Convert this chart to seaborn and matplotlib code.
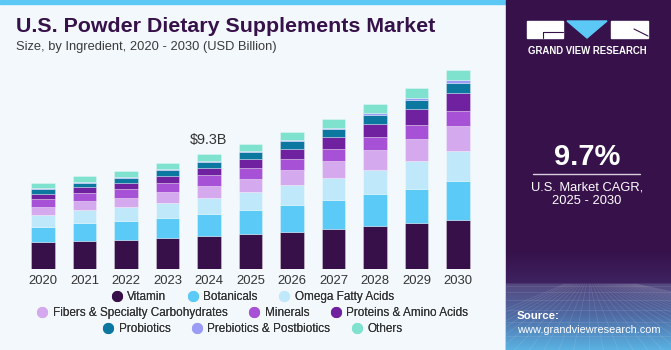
import numpy as np
import pandas as pd
import matplotlib
matplotlib.use("Agg")
from matplotlib import pyplot as plt
from matplotlib.lines import Line2D
from matplotlib.patches import Rectangle, Polygon
from matplotlib.colors import to_rgb
import seaborn as sns

# données (USD Billion)
years = [2020, 2021, 2022, 2023, 2024, 2025, 2026, 2027, 2028, 2029, 2030]
ingredients = ["Vitamin", "Botanicals", "Omega Fatty Acids", "Fibers & Specialty Carbohydrates",
               "Minerals", "Proteins & Amino Acids", "Probiotics", "Prebiotics & Postbiotics", "Others"]
vitamin = [2.16, 2.27, 2.35, 2.49, 2.65, 2.83, 3.02, 3.23, 3.45, 3.69, 3.99]
botanicals = [1.27, 1.41, 1.49, 1.62, 1.78, 1.91, 2.13, 2.32, 2.59, 2.80, 3.10]
omega = [0.97, 1.05, 1.14, 1.24, 1.35, 1.51, 1.62, 1.81, 1.97, 2.21, 2.48]
fibers = [0.62, 0.73, 0.76, 0.86, 0.97, 1.05, 1.24, 1.40, 1.59, 1.81, 1.99]
minerals = [0.65, 0.65, 0.73, 0.76, 0.81, 0.86, 0.92, 0.97, 1.08, 1.16, 1.24]
proteins = [0.41, 0.49, 0.49, 0.54, 0.59, 0.73, 0.81, 0.92, 1.08, 1.24, 1.43]
probiotics = [0.35, 0.38, 0.41, 0.46, 0.51, 0.54, 0.59, 0.65, 0.67, 0.73, 0.84]
prebiotics = [0.08, 0.08, 0.08, 0.11, 0.11, 0.11, 0.11, 0.13, 0.16, 0.22, 0.19]
others = [0.41, 0.43, 0.49, 0.51, 0.54, 0.59, 0.67, 0.70, 0.75, 0.78, 0.86]
colors = ["#37104a", "#5bcaf6", "#bfe9fa", "#d5a9ed", "#a751d6", "#7021a0", "#0c78a0", "#9a9cf6", "#7fe2cf"]
callout_year = 2024
callout_label = "$9.3B"

series = [vitamin, botanicals, omega, fibers, minerals, proteins, probiotics, prebiotics, others]
df = pd.DataFrame({name: vals for name, vals in zip(ingredients, series)}, index=years)
df.index.name = "Year"
long_df = df.reset_index().melt(id_vars="Year", var_name="Ingredient", value_name="Value")
palette = dict(zip(ingredients, colors))

sns.set_theme(style="white")
plt.rcParams['font.family'] = ['Liberation Sans', 'DejaVu Sans']

W, H = 671, 350


def fx(x):
    return x / W


def fy(y):
    return 1 - y / H


fig = plt.figure(figsize=(W / 100, H / 100), dpi=100)
fig.patch.set_facecolor("#f3f8fc")

# bande bleue en haut + panneau de droite
fig.add_artist(Rectangle((0, fy(4)), fx(506), 4 / H, transform=fig.transFigure, color="#5bc8f5", zorder=0))
fig.add_artist(Rectangle((fx(506), 0), 1 - fx(506), 1, transform=fig.transFigure, color="#36114a", zorder=0))

# dégradé bas du panneau
stops = [(0, "#36114a"), (32, "#3e2260"), (34, "#54497f"), (65, "#4f6ba5"), (100, "#5ab4e4")]
ys = np.arange(100)
grad = np.zeros((100, 1, 3))
for k in range(3):
    grad[:, 0, k] = np.interp(ys, [s[0] for s in stops], [to_rgb(s[1])[k] for s in stops])
gax = fig.add_axes([fx(506), 0, 1 - fx(506), 100 / H])
gax.imshow(grad, aspect="auto", extent=(0, 1, 0, 1), origin="upper")
# quadrillage discret
for i in range(-12, 25):
    gax.plot([0.5 + i * 0.012, 0.5 + i * 0.09], [0.66, 0], color="white", alpha=0.12, lw=0.5)
for v in [0.64, 0.58, 0.5, 0.4, 0.28, 0.14]:
    gax.plot([0, 1], [v, v], color="white", alpha=0.12, lw=0.5)
gax.set_xlim(0, 1)
gax.set_ylim(0, 1)
gax.axis("off")

# graphique principal
scale = 12.37  # px par milliard
ax = fig.add_axes([fx(22.25), fy(269), 456.5 / W, 215 / H])
sns.histplot(data=long_df, x="Year", weights="Value", hue="Ingredient", hue_order=ingredients[::-1],
             palette=palette, multiple="stack", discrete=True, shrink=0.555, alpha=1,
             edgecolor=(1, 1, 1, 0.35), linewidth=0.6, legend=False, ax=ax)
ax.set_xlim(2019.5, 2030.5)
ax.set_ylim(0, 215 / scale)
ax.set_xticks(years)
ax.set_xticklabels([str(y) for y in years], fontsize=9.4, color="#333333")
ax.set_yticks([])
ax.set_xlabel("")
ax.set_ylabel("")
ax.tick_params(axis="x", length=0, pad=4)
for s in ax.spines.values():
    s.set_visible(False)
ax.patch.set_alpha(0)

total = df.loc[callout_year].sum()
ax.text(callout_year, total + 1.15, callout_label, ha="center", va="center", fontsize=10.4, color="#333333")

# légende en 3 lignes centrées
rows = [ingredients[0:3], ingredients[3:6], ingredients[6:9]]
row_y = [297, 313, 329]
for row, yy in zip(rows, row_y):
    handles = [Line2D([], [], marker="o", linestyle="none", markersize=7, markerfacecolor=palette[n],
                      markeredgecolor=palette[n], label=n) for n in row]
    leg = fig.legend(handles=handles, loc="center", bbox_to_anchor=(fx(253), fy(yy)), ncol=len(row),
                     frameon=False, fontsize=8.5, handlelength=0.8, handletextpad=0.5, columnspacing=1.85,
                     borderpad=0, borderaxespad=0)
    for t in leg.get_texts():
        t.set_color("#333333")
    fig.add_artist(leg)

# titres
fig.text(fx(16), fy(27), "U.S. Powder Dietary Supplements Market", fontsize=15.4, fontweight="bold",
         color="#36114a", va="center", ha="left")
fig.text(fx(16), fy(47), "Size, by Ingredient, 2020 - 2030 (USD Billion)", fontsize=9.3,
         color="#3a3a3a", va="center", ha="left")

# logo
fig.add_artist(Rectangle((fx(527), fy(38)), 36 / W, 17 / H, transform=fig.transFigure, color="white"))
fig.add_artist(Rectangle((fx(611), fy(38)), 37 / W, 17 / H, transform=fig.transFigure, color="white"))
fig.add_artist(Polygon([(fx(567), fy(21)), (fx(607), fy(21)), (fx(587), fy(38))], closed=True,
                       transform=fig.transFigure, color="#5bc8f5"))
fig.add_artist(Line2D([fx(543), fx(563)], [fy(32), fy(32)], transform=fig.transFigure, color="#36114a", lw=0.8))
fig.add_artist(Line2D([fx(543), fx(543)], [fy(32), fy(38)], transform=fig.transFigure, color="#36114a", lw=0.8))
fig.add_artist(Line2D([fx(634), fx(648)], [fy(29), fy(36)], transform=fig.transFigure, color="#36114a", lw=0.8))
fig.text(fx(587.5), fy(51), "GRAND VIEW RESEARCH", fontsize=6.9, fontweight="bold", color="white",
         ha="center", va="center")

# CAGR
fig.text(fx(587), fy(157), "9.7%", fontsize=21, fontweight="bold", color="white", ha="center", va="center")
fig.add_artist(Line2D([fx(533), fx(640)], [fy(173.5), fy(173.5)], transform=fig.transFigure,
                      color="#d8d0e0", lw=1))
fig.text(fx(587), fy(187), "U.S. Market CAGR,", fontsize=9.3, color="white", ha="center", va="center")
fig.text(fx(587), fy(201), "2025 - 2030", fontsize=9.3, color="white", ha="center", va="center")

fig.text(fx(517), fy(316), "Source:", fontsize=8.2, fontweight="bold", color="white", ha="left", va="center")
fig.text(fx(517), fy(330), "www.grandviewresearch.com", fontsize=7.9, color="white", ha="left", va="center")

fig.savefig("out.png", dpi=100)
